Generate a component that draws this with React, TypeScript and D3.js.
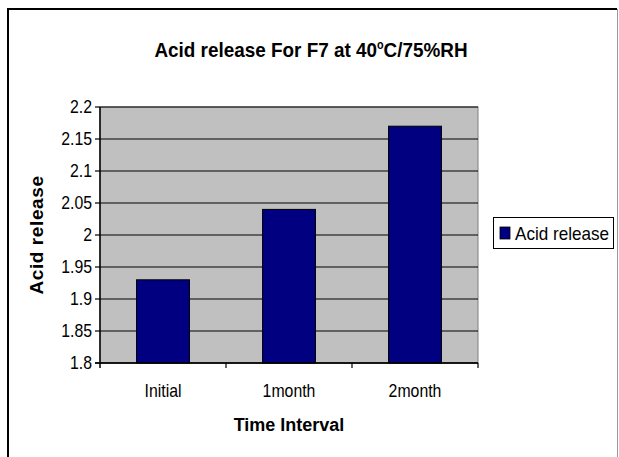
import React from "react";
import * as d3 from "d3";

const categories = ["Initial", "1month", "2month"];
const acidRelease = [1.93, 2.04, 2.17];
const yTicks = [1.8, 1.85, 1.9, 1.95, 2, 2.05, 2.1, 2.15, 2.2];
const seriesName = "Acid release";

const W = 619;
const H = 457;
const FONT = "'Liberation Sans', Arial, sans-serif";

type TProps = {
  x: number; y: number; sx?: number; size: number; bold?: boolean; anchor?: string; dy?: string; children: React.ReactNode;
};
function CText({ x, y, sx = 0.88, size, bold, anchor = "start", dy, children }: TProps) {
  return (
    <g transform={`translate(${x},${y}) scale(${sx},1)`}>
      <text x={0} y={0} dy={dy} textAnchor={anchor} fontFamily={FONT} fontWeight={bold ? "bold" : "normal"} fontSize={size} fill="#000">
        {children}
      </text>
    </g>
  );
}

export default function App() {
  const left = 100, right = 478, top = 107, bottom = 363;
  const x = d3.scaleBand<string>().domain(categories).range([left, right]).paddingInner(0.58).paddingOuter(0.29);
  const y = d3.scaleLinear().domain([1.8, 2.2]).range([bottom, top]);
  const fmt = (v: number) => String(+v.toFixed(2));
  const band = (right - left) / categories.length;

  return (
    <svg width={W} height={H} style={{ position: "absolute", left: 0, top: 0, background: "#fff" }}>
      <rect x={0} y={0} width={W} height={H} fill="#fff" />
      {/* outer frame */}
      <line x1={8} y1={8} x2={8} y2={H} stroke="#000" strokeWidth={2} />
      <line x1={7} y1={9} x2={617} y2={9} stroke="#000" strokeWidth={2} />
      <line x1={617.5} y1={9} x2={617.5} y2={H} stroke="#999" strokeWidth={1} />

      {/* title */}
      <g transform="translate(311,57) scale(0.9,1)">
        <text x={0} y={0} textAnchor="middle" fontFamily={FONT} fontWeight="bold" fontSize={21} fill="#000">
          Acid release For F7 at 40
          <tspan dy={-8} fontSize={12}>o</tspan>
          <tspan dy={8}>C/75%RH</tspan>
        </text>
      </g>

      {/* plot area */}
      <rect x={left} y={top} width={right - left} height={bottom - top} fill="#C0C0C0" stroke="#808080" strokeWidth={1} />
      {yTicks.map((t) => (
        <line key={t} x1={left} x2={right} y1={y(t)} y2={y(t)} stroke="#000" strokeWidth={1.2} />
      ))}

      {/* bars */}
      {categories.map((c, i) => (
        <rect key={c} x={x(c)} y={y(acidRelease[i])} width={x.bandwidth()} height={bottom - y(acidRelease[i])}
          fill="#000080" stroke="#000" strokeWidth={1} />
      ))}

      {/* axes */}
      <line x1={left} x2={left} y1={top} y2={bottom + 5} stroke="#000" strokeWidth={1.5} />
      <line x1={left - 5} x2={right} y1={bottom} y2={bottom} stroke="#000" strokeWidth={1.5} />
      {yTicks.map((t) => (
        <g key={"yt" + t}>
          <line x1={left - 5} x2={left} y1={y(t)} y2={y(t)} stroke="#000" strokeWidth={1.2} />
          <CText x={left - 8} y={y(t)} dy="0.36em" anchor="end" size={18}>{fmt(t)}</CText>
        </g>
      ))}
      {categories.map((c, i) => (
        <g key={"xt" + c}>
          <line x1={left + band * (i + 1)} x2={left + band * (i + 1)} y1={bottom} y2={bottom + 5} stroke="#000" strokeWidth={1.2} />
          <CText x={(x(c) as number) + x.bandwidth() / 2} y={397} anchor="middle" size={18}>{c}</CText>
        </g>
      ))}

      {/* axis titles */}
      <CText x={289} y={431} anchor="middle" size={18} sx={1} bold>Time Interval</CText>
      <text transform={`translate(43, ${(top + bottom) / 2}) rotate(-90)`} textAnchor="middle" fontFamily={FONT} fontWeight="bold" fontSize={19} letterSpacing={0.6} fill="#000">{seriesName}</text>

      {/* legend */}
      <rect x={493.5} y={217.5} width={120} height={31} fill="#fff" stroke="#000" strokeWidth={1} />
      <rect x={500} y={227} width={10} height={12} fill="#000080" stroke="#000" strokeWidth={0.8} />
      <CText x={515} y={240} size={18} sx={0.95}>{seriesName}</CText>
    </svg>
  );
}
